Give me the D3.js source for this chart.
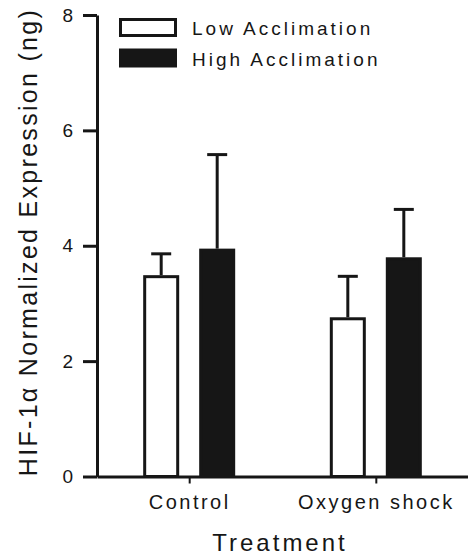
<!DOCTYPE html>
<html>
<head>
<meta charset="utf-8">
<script src="https://cdn.jsdelivr.net/npm/d3@7"></script>
<style>
  body { margin: 0; background: #fff; }
  svg { display: block; }
  text { font-family: "Liberation Sans", Arial, sans-serif; fill: #161616; }
</style>
</head>
<body>
<svg width="468" height="556"></svg>
<script>
// data
var categories = ["Control", "Oxygen shock"];
var series = ["Low Acclimation", "High Acclimation"];
var lowMeans = [3.49, 2.76];
var lowErr = [0.37, 0.71];
var highMeans = [3.95, 3.80];
var highErr = [1.63, 0.83];
var yTicks = [0, 2, 4, 6, 8];

var ink = "#161616";

var svg = d3.select("svg"),
	width = +svg.attr("width"),
	height = +svg.attr("height");

var y = d3.scaleLinear().domain([0, 8]).range([476.5, 15]);

var x = d3.scalePoint().domain(categories).range([97, 468]).padding(0.494);

var xs = d3.scaleBand().domain(series).range([-46, 46]).paddingInner(0.357).paddingOuter(0);

var color = d3.scaleOrdinal().domain(series).range(["#fff", ink]);

// flatten into bars
var bars = [];
categories.forEach(function (c, i) {
	bars.push({ cat: c, ser: series[0], v: lowMeans[i], e: lowErr[i] });
	bars.push({ cat: c, ser: series[1], v: highMeans[i], e: highErr[i] });
});

// error bars first (only the upper whisker is visible)
var err = svg.append("g")
	.attr("stroke", ink)
	.attr("stroke-width", 3);

err.selectAll("line.stem")
	.data(bars)
	.enter().append("line")
	.attr("class", "stem")
	.attr("x1", function (d) { return x(d.cat) + xs(d.ser) + xs.bandwidth() / 2; })
	.attr("x2", function (d) { return x(d.cat) + xs(d.ser) + xs.bandwidth() / 2; })
	.attr("y1", function (d) { return y(d.v); })
	.attr("y2", function (d) { return y(d.v + d.e); });

err.selectAll("line.cap")
	.data(bars)
	.enter().append("line")
	.attr("class", "cap")
	.attr("x1", function (d) { return x(d.cat) + xs(d.ser) + xs.bandwidth() / 2 - 10; })
	.attr("x2", function (d) { return x(d.cat) + xs(d.ser) + xs.bandwidth() / 2 + 10; })
	.attr("y1", function (d) { return y(d.v + d.e); })
	.attr("y2", function (d) { return y(d.v + d.e); });

svg.append("g")
	.selectAll("rect")
	.data(bars)
	.enter().append("rect")
	.attr("x", function (d) { return x(d.cat) + xs(d.ser) + 1.5; })
	.attr("width", xs.bandwidth() - 3)
	.attr("y", function (d) { return y(d.v) + 1.5; })
	.attr("height", function (d) { return y(0) - y(d.v) - 1.5; })
	.attr("fill", function (d) { return color(d.ser); })
	.attr("stroke", ink)
	.attr("stroke-width", 3);

// axes
var yAxis = svg.append("g")
	.attr("transform", "translate(97,0)")
	.call(d3.axisLeft(y).tickValues(yTicks).tickSize(14).tickPadding(10).tickSizeOuter(0));

var xAxis = svg.append("g")
	.attr("transform", "translate(0," + y(0) + ")")
	.call(d3.axisBottom(x).tickSize(7).tickPadding(11).tickSizeOuter(0));

yAxis.select(".domain").attr("stroke", ink).attr("stroke-width", 3);
yAxis.selectAll(".tick line").attr("stroke", ink).attr("stroke-width", 3);
yAxis.selectAll(".tick text")
	.style("font-size", "19px")
	.style("font-family", "Liberation Sans, Arial, sans-serif")
	.attr("fill", ink);

xAxis.select(".domain").attr("stroke", ink).attr("stroke-width", 3);
xAxis.selectAll(".tick line").attr("stroke", ink).attr("stroke-width", 2);
xAxis.selectAll(".tick text")
	.style("font-size", "20px")
	.style("letter-spacing", "2.5px")
	.style("font-family", "Liberation Sans, Arial, sans-serif")
	.attr("fill", ink);

// axis titles
svg.append("text")
	.attr("x", 280)
	.attr("y", 551)
	.attr("text-anchor", "middle")
	.style("font-size", "24px")
	.style("letter-spacing", "3px")
	.text("Treatment");

svg.append("text")
	.attr("transform", "translate(37,242) rotate(-90)")
	.attr("text-anchor", "middle")
	.style("font-size", "25px")
	.style("letter-spacing", "2.3px")
	.text("HIF-1\u03b1 Normalized Expression (ng)");

// legend
var legend = svg.append("g")
	.selectAll("g")
	.data(series)
	.enter().append("g")
	.attr("transform", function (d, i) { return "translate(119," + (18 + i * 30.5) + ")"; });

legend.append("rect")
	.attr("x", 1.5)
	.attr("y", 1.5)
	.attr("width", 55)
	.attr("height", 16)
	.attr("fill", function (d) { return color(d); })
	.attr("stroke", ink)
	.attr("stroke-width", 3);

legend.append("text")
	.attr("x", 73)
	.attr("y", 17)
	.style("font-size", "19px")
	.style("letter-spacing", "3px")
	.text(function (d) { return d; });
</script>
</body>
</html>
